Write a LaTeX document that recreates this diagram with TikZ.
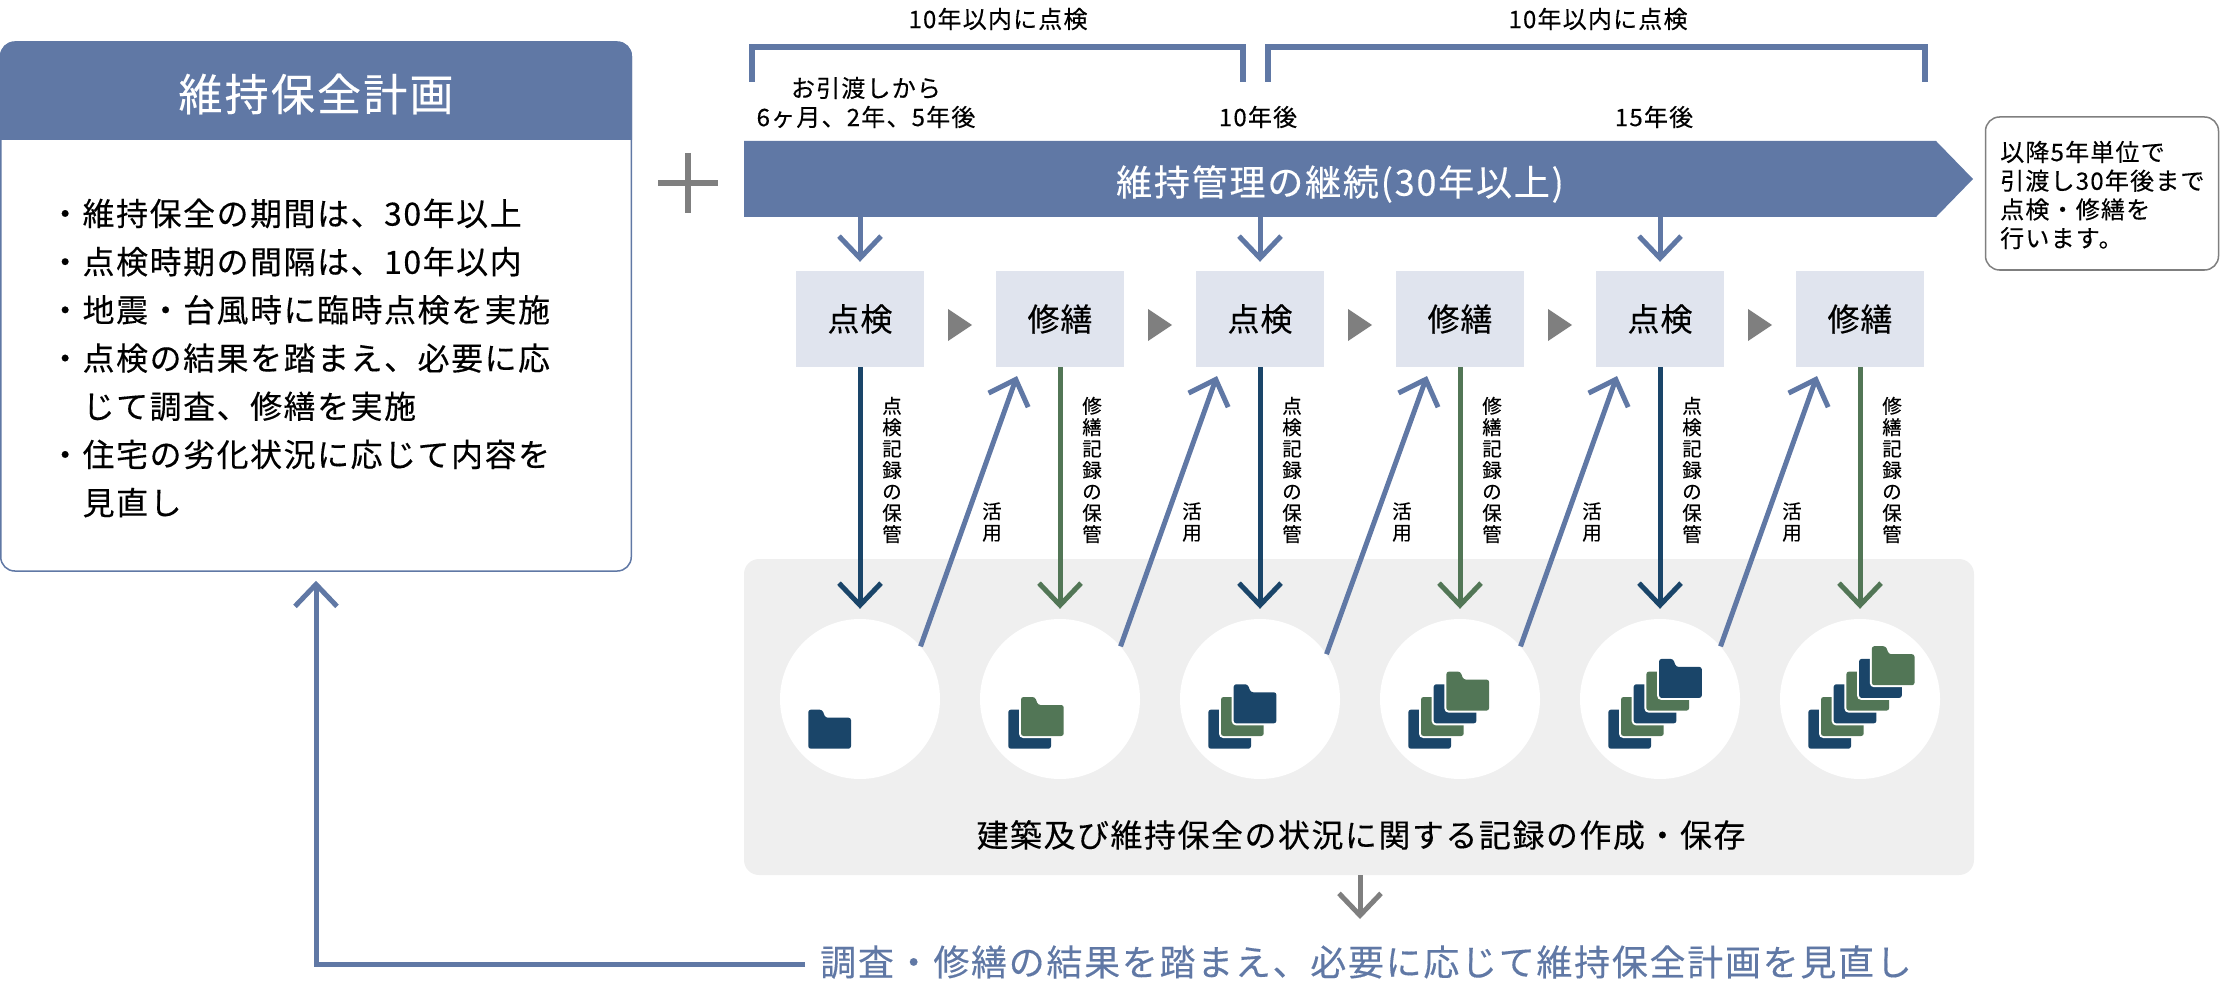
\documentclass[tikz,border=0pt]{standalone}
\usepackage{fontspec}
\usetikzlibrary{arrows.meta}
\setmainfont[FakeBold=0.3]{Noto Sans CJK JP}
\newfontfamily\jpwide[LetterSpace=5,FakeBold=0.3]{Noto Sans CJK JP}
\newfontfamily\jpmid[LetterSpace=3,FakeBold=0.3]{Noto Sans CJK JP}
\newcommand{\fsize}[2]{\fontsize{#1}{#2}\selectfont}
\newcommand{\folderat}[4]{% left, bottom, colour, step
  \begin{scope}[shift={({#1+12.7*(#4)},{#2-12.7*(#4)})}]
    \draw[white, line width=4pt, rounded corners=2.5pt] (0,0) -- (0,-39) -- (14,-39) -- (17,-31) -- (42.7,-31) -- (42.7,0) -- cycle;
    \fill[#3, rounded corners=2.5pt] (0,0) -- (0,-39) -- (14,-39) -- (17,-31) -- (42.7,-31) -- (42.7,0) -- cycle;
  \end{scope}}
\definecolor{mainblue}{HTML}{6078A5}
\definecolor{darkblue}{HTML}{1A4569}
\definecolor{darkgreen}{HTML}{527656}
\definecolor{midgray}{HTML}{7F7F7F}
\definecolor{boxblue}{HTML}{E0E4EE}
\definecolor{panelgray}{HTML}{EFEFEF}
\tikzset{
  barb/.style={-{Straight Barb[length=22pt,width=42pt,line width=5pt]}, line width=5pt},
}
\begin{document}
\begin{tikzpicture}[x=1pt,y=-1pt]
      \useasboundingbox (0,0) rectangle (2220,987);

      % left card
      \node[draw=mainblue, line width=1.5pt, rounded corners=14pt, minimum width=630.5pt, minimum height=529pt, inner sep=0pt] (plan) at (316,306.5) {};
      \fill[mainblue] (0,140) [rounded corners=14pt] -- (0,42) -- (632,42) [sharp corners] -- (632,140) -- cycle;
      \node[text=white, font=\jpwide\fsize{44}{52}] (plantitle) at (316,94) {維持保全計画};
      \node[anchor=west, align=left, inner sep=0pt, font=\jpwide\fsize{31.9}{48.2}] (planlist) at (49,358) {・維持保全の期間は、30年以上\\
        ・点検時期の間隔は、10年以内\\
        ・地震・台風時に臨時点検を実施\\
        ・点検の結果を踏まえ、必要に応\\
        \hspace*{33.5pt}じて調査、修繕を実施\\
        ・住宅の劣化状況に応じて内容を\\
        \hspace*{33.5pt}見直し};

      % plus
      \coordinate (plus) at (688,183);
      \draw[midgray, line width=6pt] ([xshift=-30pt]plus) -- ([xshift=30pt]plus);
      \draw[midgray, line width=6pt] ([yshift=30pt]plus) -- ([yshift=-30pt]plus);

      % grey panel and circles
      \node[fill=panelgray, rounded corners=15pt, minimum width=1230pt, minimum height=316pt, inner sep=0pt] (panel) at (1359,717) {};

      % period brackets and labels
      \begin{scope}[every node/.style={font=\jpwide\fsize{24}{29}, align=center, inner sep=0pt}]
        \node (span1) at (998,19) {10年以内に点検};
        \node (span2) at (1598,19) {10年以内に点検};
        \node (when1) at (866,102.5) {お引渡しから\\6ヶ月、2年、5年後};
        \node (when2) at (1258,117) {10年後};
        \node (when3) at (1654,117) {15年後};
      \end{scope}
      \coordinate (br1a) at (752,82);
      \coordinate (br1b) at (1243,82);
      \coordinate (br2a) at (1268,82);
      \coordinate (br2b) at (1925,82);
      \draw[mainblue, line width=6pt] (br1a) -- ++(0,-35) -| (br1b);
      \draw[mainblue, line width=6pt] (br2a) -- ++(0,-35) -| (br2b);

      % main bar
      \fill[mainblue] (744,141) -- (1936,141) -- (1973,179) -- (1936,217) -- (744,217) -- cycle;
      \node[text=white, font=\jpwide\fsize{36}{42}] (bar) at (1340,184) {維持管理の継続(30年以上)};
      \node[draw=midgray, line width=1.5pt, rounded corners=14pt, minimum width=233pt, minimum height=153pt, inner sep=0pt] (note) at (2102,193.5) {};
      \node[anchor=west, align=left, inner sep=0pt, font=\jpwide\fsize{24}{28.7}] (notetext) at (2000,195) {以降5年単位で\\引渡し30年後まで\\点検・修繕を\\行います。};

      % steps
      \begin{scope}[every node/.style={fill=boxblue, minimum width=128pt, minimum height=96pt, inner sep=0pt, font=\jpmid\fsize{32}{38}}]
        \node (ins1) at (860,319) {点検};
        \node (rep1) at (1060,319) {修繕};
        \node (ins2) at (1260,319) {点検};
        \node (rep2) at (1460,319) {修繕};
        \node (ins3) at (1660,319) {点検};
        \node (rep3) at (1860,319) {修繕};
      \end{scope}

      % triangles between steps
      \foreach \tx in {948,1148,1348,1548,1748}
        \fill[midgray] (\tx,309) -- (\tx+24,325) -- (\tx,341) -- cycle;

      % arrows from bar
      \coordinate (from1) at (860,217);
      \coordinate (from2) at (1260,217);
      \coordinate (from3) at (1660,217);
      \begin{scope}[every edge/.style={draw, barb, mainblue, shorten >=9pt}]
        \path (from1) edge (ins1.north);
        \path (from2) edge (ins2.north);
        \path (from3) edge (ins3.north);
      \end{scope}

      % folder circles
      \begin{scope}[every node/.style={circle, fill=white, minimum size=160pt, inner sep=0pt}]
        \node (doc1) at (860,699) {};
        \node (doc2) at (1060,699) {};
        \node (doc3) at (1260,699) {};
        \node (doc4) at (1460,699) {};
        \node (doc5) at (1660,699) {};
        \node (doc6) at (1860,699) {};
      \end{scope}
      \foreach \cx/\num in {860/1,1060/2,1260/3,1460/4,1660/5,1860/6}
        \foreach \k in {1,...,\num} {
          \pgfmathparse{int(mod(\k,2))}
          \ifnum\pgfmathresult=1 \def\col{darkblue}\else \def\col{darkgreen}\fi
          \folderat{\cx-51.7}{748.7}{\col}{\k-1}
        }

      % records down
      \begin{scope}[every edge/.style={draw, barb, shorten >=10pt}]
        \path (ins1.south) edge[darkblue] (doc1.north);
        \path (rep1.south) edge[darkgreen] (doc2.north);
        \path (ins2.south) edge[darkblue] (doc3.north);
        \path (rep2.south) edge[darkgreen] (doc4.north);
        \path (ins3.south) edge[darkblue] (doc5.north);
        \path (rep3.south) edge[darkgreen] (doc6.north);
      \end{scope}

      % reuse up
      \coordinate (tip1) at (1017,376);
      \coordinate (tip2) at (1217,376);
      \coordinate (tip3) at (1427,376);
      \coordinate (tip4) at (1617,376);
      \coordinate (tip5) at (1817,376);
      \begin{scope}[every edge/.style={draw, barb, mainblue}]
        \path (doc1.41) edge (tip1);
        \path (doc2.41) edge (tip2);
        \path (doc3.34) edge (tip3);
        \path (doc4.41) edge (tip4);
        \path (doc5.41) edge (tip5);
      \end{scope}

      % vertical labels
      \begin{scope}[every node/.style={font=\fsize{19.5}{21.4}, align=center, inner sep=0pt}]
        \node (lab1) at (892,470) {点\\検\\記\\録\\の\\保\\管};
        \node (lab2) at (1092,470) {修\\繕\\記\\録\\の\\保\\管};
        \node (lab3) at (1292,470) {点\\検\\記\\録\\の\\保\\管};
        \node (lab4) at (1492,470) {修\\繕\\記\\録\\の\\保\\管};
        \node (lab5) at (1692,470) {点\\検\\記\\録\\の\\保\\管};
        \node (lab6) at (1892,470) {修\\繕\\記\\録\\の\\保\\管};
        \node (use1) at (992,522) {活\\用};
        \node (use2) at (1192,522) {活\\用};
        \node (use3) at (1402,522) {活\\用};
        \node (use4) at (1592,522) {活\\用};
        \node (use5) at (1792,522) {活\\用};
      \end{scope}

      \node[font=\jpwide\fsize{31.9}{38}] (panellabel) at (1361,835) {建築及び維持保全の状況に関する記録の作成・保存};

      % result
      \node[text=mainblue, font=\jpwide\fsize{35.9}{42}, inner sep=0pt] (result) at (1366,962) {調査・修繕の結果を踏まえ、必要に応じて維持保全計画を見直し};
      \draw[barb, midgray, shorten >=6pt] (1360,875) -- (1360,925);
      \draw[barb, mainblue, shorten >=9pt] ([yshift=-2pt,xshift=-15pt]result.west) -| (plan.south);

    \end{tikzpicture}
\end{document}
